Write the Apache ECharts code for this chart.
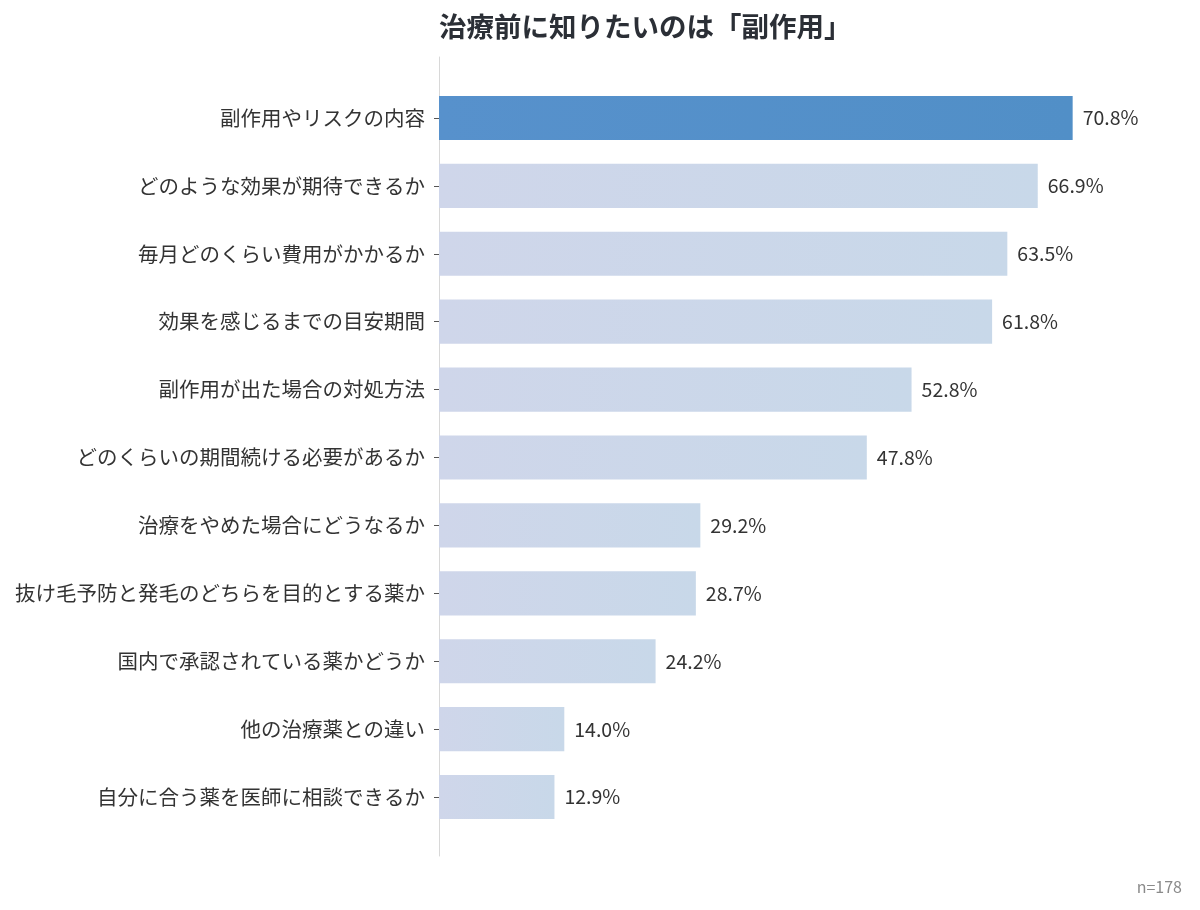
<!DOCTYPE html>
<html>
<head>
<meta charset="utf-8">
<script src="https://cdn.jsdelivr.net/npm/echarts@6/dist/echarts.min.js"></script>
<style>
html,body{margin:0;padding:0;background:#fff;}
#chart{width:1200px;height:910px;}
</style>
</head>
<body>
<div id="chart"></div>
<script>
const categories = [
    '副作用やリスクの内容',
    'どのような効果が期待できるか',
    '毎月どのくらい費用がかかるか',
    '効果を感じるまでの目安期間',
    '副作用が出た場合の対処方法',
    'どのくらいの期間続ける必要があるか',
    '治療をやめた場合にどうなるか',
    '抜け毛予防と発毛のどちらを目的とする薬か',
    '国内で承認されている薬かどうか',
    '他の治療薬との違い',
    '自分に合う薬を医師に相談できるか'
];
const values = [70.8, 66.9, 63.5, 61.8, 52.8, 47.8, 29.2, 28.7, 24.2, 14.0, 12.9];
const highlightIndex = 0;
const sampleNote = 'n=178';

const font = '"Noto Sans CJK JP", "Noto Sans", sans-serif';
const chart = echarts.init(document.getElementById('chart'));

// 色：先頭だけ濃い青、それ以外は淡い青
const lightColor = new echarts.graphic.LinearGradient(0, 0, 1, 0, [
    {offset: 0, color: '#cfd6ea'},
    {offset: 1, color: '#c8d8e9'}
]);
const darkColor = new echarts.graphic.LinearGradient(0, 0, 1, 0, [
    {offset: 0, color: '#5791cc'},
    {offset: 1, color: '#518fc7'}
]);

const barData = values.map(function(v, i) {
    return {
        value: v,
        itemStyle: {color: i === highlightIndex ? darkColor : lightColor}
    };
});

chart.setOption({
    backgroundColor: '#ffffff',
    animation: false,
    textStyle: {fontFamily: font},
    title: [{
        text: '治療前に知りたいのは「副作用」',
        left: 434,
        top: 8,
        textStyle: {fontFamily: font, fontSize: 27.5, fontWeight: 'bold', color: '#2b2f36'}
    }, {
        text: sampleNote,
        right: 13,
        top: 874,
        textStyle: {fontFamily: font, fontSize: 16, fontWeight: 'normal', color: '#8a8a8a'}
    }],
    grid: [
        // 軸線用（少し長め）
        {left: 439, right: 45, top: 57, bottom: 54},
        // 棒グラフ用
        {left: 439, right: 45, top: 84, bottom: 79}
    ],
    xAxis: [
        {gridIndex: 0, type: 'value', min: 0, max: 80, show: false},
        {gridIndex: 1, type: 'value', min: 0, max: 80, show: false}
    ],
    yAxis: [
        {
            gridIndex: 0, type: 'value', min: 0, max: 1,
            axisLine: {show: true, lineStyle: {color: '#d8d8d8', width: 1}},
            axisTick: {show: false}, axisLabel: {show: false}, splitLine: {show: false}
        },
        {
            gridIndex: 1,
            type: 'category',
            data: categories,
            inverse: true,
            axisLine: {show: false},
            axisTick: {show: true, alignWithLabel: true, length: 5, lineStyle: {color: '#555'}},
            axisLabel: {
                margin: 14,
                fontSize: 20.5,
                color: '#333333',
                fontFamily: font
            },
            splitLine: {show: false}
        }
    ],
    series: [{
        type: 'bar',
        xAxisIndex: 1,
        yAxisIndex: 1,
        data: barData,
        barWidth: '65%',
        label: {
            show: true,
            position: 'right',
            distance: 10,
            fontSize: 19.5,
            color: '#333333',
            fontFamily: font,
            formatter: function(p) {
                return p.value.toFixed(1) + '%';
            }
        }
    }]
});
</script>
</body>
</html>
